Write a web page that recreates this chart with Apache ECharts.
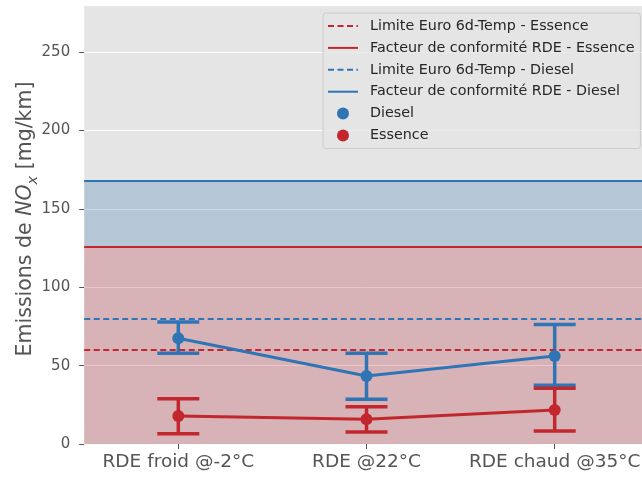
<!DOCTYPE html>
<html>
<head>
<meta charset="utf-8">
<script src="https://cdn.jsdelivr.net/npm/echarts@6/dist/echarts.min.js"></script>
<style>
html,body{margin:0;padding:0;background:#fff;}
#chart{width:642px;height:477px;}
</style>
</head>
<body>
<div id="chart"></div>
<script>
const categories = ['RDE froid @-2°C', 'RDE @22°C', 'RDE chaud @35°C'];
const dieselMean = [67.5, 43.4, 56.2];
const dieselLow  = [57.9, 28.5, 37.5];
const dieselHigh = [77.9, 57.9, 76.2];
const essenceMean = [17.8, 15.8, 21.7];
const essenceLow  = [6.6, 7.7, 8.3];
const essenceHigh = [28.9, 23.8, 35.6];
const limitEssence = 60;
const limitDiesel = 80;
const cfEssence = 126;
const cfDiesel = 168;
const yTicks = [0, 50, 100, 150, 200, 250];
const legendNames = [
  'Limite Euro 6d-Temp - Essence',
  'Facteur de conformité RDE - Essence',
  'Limite Euro 6d-Temp - Diesel',
  'Facteur de conformité RDE - Diesel',
  'Diesel',
  'Essence'
];

const RED = '#c1272d';
const BLUE = '#2f75b5';
const FONT = 'DejaVu Sans';

function errData(low, high) {
  return low.map((l, i) => [i, l, high[i]]);
}
function errRender(color) {
  return function (params, api) {
    const i = api.value(0);
    const p1 = api.coord([i, api.value(1)]);
    const p2 = api.coord([i, api.value(2)]);
    const hw = 21;
    const st = {stroke: color, lineWidth: 3.5};
    return {
      type: 'group',
      children: [
        {type: 'line', shape: {x1: p1[0], y1: p1[1], x2: p2[0], y2: p2[1]}, style: st},
        {type: 'line', shape: {x1: p1[0] - hw, y1: p1[1], x2: p1[0] + hw, y2: p1[1]}, style: st},
        {type: 'line', shape: {x1: p2[0] - hw, y1: p2[1], x2: p2[0] + hw, y2: p2[1]}, style: st}
      ]
    };
  };
}
function refLine(name, value, color, dashed, extra) {
  const ls = {color: color, width: 2, type: dashed ? [6, 3.5] : 'solid'};
  const s = {
    name: name, type: 'line', data: [], symbol: 'none',
    itemStyle: {color: color, opacity: 0},
    lineStyle: ls,
    z: 3,
    markLine: {
      silent: true, symbol: ['none', 'none'], label: {show: false},
      lineStyle: ls, animation: false,
      data: [{yAxis: value}]
    }
  };
  if (extra) Object.assign(s, extra);
  return s;
}

const chart = echarts.init(document.getElementById('chart'), null, {renderer: 'canvas'});
chart.setOption({
  animation: false,
  backgroundColor: '#ffffff',
  textStyle: {fontFamily: FONT},
  grid: {
    left: 84.2, right: -6.8, top: 6, bottom: 33,
    outerBoundsMode: 'none',
    containLabel: false,
    show: true, backgroundColor: '#e5e5e5', borderWidth: 0
  },
  xAxis: {
    type: 'category',
    data: categories,
    boundaryGap: true,
    axisLine: {show: false},
    axisTick: {show: true, alignWithLabel: true, length: 5, lineStyle: {color: '#555555', width: 1}},
    axisLabel: {color: '#555555', fontSize: 18.5, fontFamily: FONT, margin: 9, interval: 0, hideOverlap: false},
    splitLine: {show: false}
  },
  yAxis: {
    type: 'value',
    min: 0, max: 279.5, interval: 50,
    axisLine: {show: false},
    axisTick: {show: true, length: 5, lineStyle: {color: '#555555', width: 1}, customValues: yTicks},
    axisLabel: {color: '#555555', fontSize: 15, fontFamily: FONT, margin: 14, showMaxLabel: false},
    splitLine: {show: true, lineStyle: {color: '#ffffff', width: 1}},
    name: 'Emissions de {i|NO}{sub|x} [mg/km]',
    nameLocation: 'middle',
    nameMoveOverlap: false,
    nameGap: 48,
    nameTextStyle: {
      color: '#555555', fontSize: 20.5, fontFamily: FONT,
      padding: [0, 0, 0, 12],
      rich: {
        i: {fontStyle: 'italic', fontSize: 20.5, color: '#555555', fontFamily: FONT},
        sub: {fontStyle: 'italic', fontSize: 14.5, color: '#555555', fontFamily: FONT, verticalAlign: 'bottom', padding: [0, 0, -5, 0]}
      }
    }
  },
  legend: {
    orient: 'vertical',
    left: 323, top: 13,
    itemWidth: 30, itemHeight: 12, itemGap: 7.9,
    padding: [6, 6, 6, 4],
    backgroundColor: 'rgba(229,229,229,0.8)',
    borderColor: '#cccccc', borderWidth: 1, borderRadius: 3,
    textStyle: {fontSize: 14.3, color: '#262626', fontFamily: FONT, padding: [0, 0, 0, 7]},
    data: [
      {name: legendNames[0], itemStyle: {opacity: 0}},
      {name: legendNames[1], itemStyle: {opacity: 0}},
      {name: legendNames[2], itemStyle: {opacity: 0}},
      {name: legendNames[3], itemStyle: {opacity: 0}},
      {name: legendNames[4], icon: 'circle'},
      {name: legendNames[5], icon: 'circle'}
    ]
  },
  series: [
    refLine(legendNames[3], cfDiesel, BLUE, false, {
      markArea: {
        silent: true,
        itemStyle: {color: 'rgba(41,113,177,0.25)'},
        data: [[{yAxis: cfEssence}, {yAxis: cfDiesel}]]
      }
    }),
    refLine(legendNames[1], cfEssence, RED, false, {
      markArea: {
        silent: true,
        itemStyle: {color: 'rgba(177,33,49,0.25)'},
        data: [[{yAxis: 0}, {yAxis: cfEssence}]]
      }
    }),
    refLine(legendNames[2], limitDiesel, BLUE, true),
    refLine(legendNames[0], limitEssence, RED, true),
    {
      name: 'errDiesel', type: 'custom', data: errData(dieselLow, dieselHigh),
      renderItem: errRender(BLUE), z: 4, silent: true
    },
    {
      name: legendNames[4], type: 'line', data: dieselMean,
      symbol: 'circle', symbolSize: 12, showSymbol: true,
      itemStyle: {color: BLUE}, lineStyle: {color: BLUE, width: 3}, z: 5
    },
    {
      name: 'errEssence', type: 'custom', data: errData(essenceLow, essenceHigh),
      renderItem: errRender(RED), z: 6, silent: true
    },
    {
      name: legendNames[5], type: 'line', data: essenceMean,
      symbol: 'circle', symbolSize: 12, showSymbol: true,
      itemStyle: {color: RED}, lineStyle: {color: RED, width: 3}, z: 7
    }
  ]
});
</script>
</body>
</html>
